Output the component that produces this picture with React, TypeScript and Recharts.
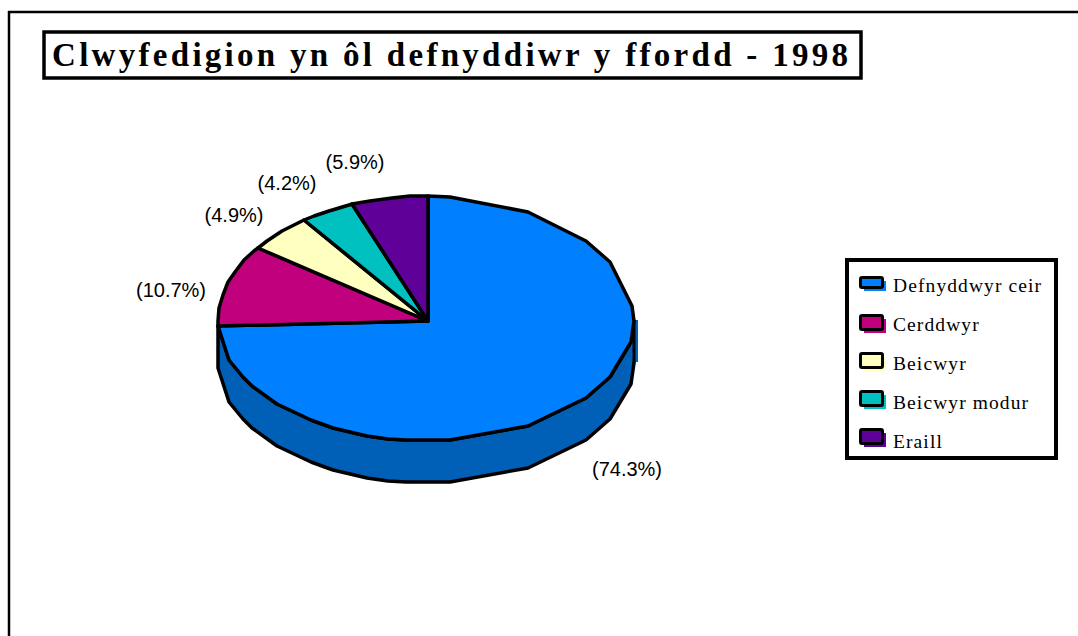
import { PieChart, Pie, Legend } from "recharts";

const categories = ["Defnyddwyr ceir", "Cerddwyr", "Beicwyr", "Beicwyr modur", "Eraill"];
const shares = [74.3, 10.7, 4.9, 4.2, 5.9];
const colors = ["#0080FF", "#C0007C", "#FFFFC0", "#00C0C0", "#5F0098"];
const sideColor = "#0060B8";
const chartTitle = "Clwyfedigion yn ôl defnyddiwr y ffordd - 1998";

const data = categories.map((name, i) => ({ name, value: shares[i], fill: colors[i] }));

// the original pie is a coarse polygon, these are its rim vertices (degrees clockwise from top)
const rimAngles = [
  0, 6, 29, 50, 62, 83, 90, 100, 118, 130, 151, 174, 186, 191, 197, 207, 214, 226, 237, 242, 251, 270, 276, 282,
  288, 293, 299, 304, 310, 316, 321, 327, 332, 338, 344, 350, 355, 360,
];
const labelOffsets = [
  [50, 65],
  [-56, 5],
  [-45, -18],
  [-40, -28],
  [-34, -36],
];

const DEPTH = 42;
const RIGHT_R = 206;
const LEFT_R = 210;
const TOP_R = 125;
const BOTTOM_R = 120;

function rimPoint(cx: number, cy: number, t: number) {
  const rad = (t * Math.PI) / 180;
  const s = Math.sin(rad);
  const c = Math.cos(rad);
  return [
    Math.round(cx + s * (s > 0 ? RIGHT_R : LEFT_R)),
    Math.round(cy - c * (c > 0 ? TOP_R : BOTTOM_R)),
  ];
}

function rimPath(cx: number, cy: number, from: number, to: number) {
  const angles = [from, ...rimAngles.filter((a) => a > from + 0.5 && a < to - 0.5), to];
  return angles.map((a) => rimPoint(cx, cy, a));
}

function toPoints(pts: number[][]) {
  return pts.map((p) => p.join(",")).join(" ");
}

function Slice(props: any) {
  const { cx, cy, startAngle, endAngle, fill } = props;
  const from = 90 - startAngle;
  const to = 90 - endAngle;
  const top = rimPath(cx, cy, from, to);
  const wallEnd = Math.min(to, 270);
  const showWall = from < 90 + 1 && wallEnd > 90;
  const wallTop = showWall ? rimPath(cx, cy, 90, wallEnd) : [];
  const wall = [...wallTop, ...wallTop.map((p) => [p[0], p[1] + DEPTH]).reverse()];
  return (
    <g>
      {showWall && (
        <>
          <polygon points={toPoints(wall)} fill={sideColor} stroke="#000" strokeWidth={3.5} strokeLinejoin="round" />
          <rect x={cx + RIGHT_R - 3} y={cy - 1} width={7} height={DEPTH} fill={sideColor} />
          <line x1={cx + RIGHT_R} y1={cy - 1} x2={cx + RIGHT_R} y2={cy + DEPTH} stroke="#000" strokeWidth={3} />
        </>
      )}
      <polygon
        points={toPoints([[cx, cy], ...top])}
        fill={fill}
        stroke="#000"
        strokeWidth={3.5}
        strokeLinejoin="round"
      />
    </g>
  );
}

function sliceLabel(props: any) {
  const { cx, cy, midAngle, index, value } = props;
  const [x, y] = rimPoint(cx, cy, 90 - midAngle);
  const [dx, dy] = labelOffsets[index];
  return (
    <text
      x={x + dx}
      y={y + dy}
      textAnchor="middle"
      dominantBaseline="central"
      fontFamily="Liberation Sans"
      fontSize={20}
      fill="#000"
    >
      {`(${value.toFixed(1)}%)`}
    </text>
  );
}

function LegendBox({ payload }: any) {
  return (
    <div
      style={{
        width: 213,
        height: 202,
        boxSizing: "border-box",
        border: "4px solid #000",
        background: "#fff",
        position: "relative",
        fontFamily: "Liberation Serif",
        fontSize: 19.5,
        letterSpacing: 1.1,
        color: "#000",
      }}
    >
      {(payload || []).map((entry: any, i: number) => {
        const top = 14 + i * 38;
        const height = i === 0 ? 13 : 17;
        return (
          <div key={entry.value}>
            <div
              style={{
                position: "absolute",
                left: 15,
                top: top + 5,
                width: 22,
                height: height - 3,
                background: entry.color,
              }}
            />
            <div
              style={{
                position: "absolute",
                left: 10,
                top,
                width: 25,
                height,
                boxSizing: "border-box",
                border: "3.5px solid #000",
                borderRadius: 3,
                background: entry.color,
              }}
            />
            <span
              style={{
                position: "absolute",
                left: 44,
                top: 11 + i * 39,
                whiteSpace: "nowrap",
                lineHeight: "26px",
              }}
            >
              {entry.value}
            </span>
          </div>
        );
      })}
    </div>
  );
}

export default function App() {
  return (
    <div style={{ position: "absolute", left: 0, top: 0, width: 1078, height: 636, background: "#fff" }}>
      <PieChart width={1078} height={636} margin={{ top: 0, right: 0, bottom: 0, left: 0 }}>
        <line x1={8} y1={12} x2={1078} y2={12} stroke="#000" strokeWidth={2.5} />
        <line x1={9} y1={11} x2={9} y2={636} stroke="#000" strokeWidth={2.5} />
        <rect x={44} y={32} width={817} height={46} fill="#fff" stroke="#000" strokeWidth={3.5} />
        <text
          x={52}
          y={66}
          fontFamily="Liberation Serif"
          fontWeight="bold"
          fontSize={33}
          textLength={796}
          lengthAdjust="spacing"
          fill="#000"
        >
          {chartTitle}
        </text>
        <Pie
          data={data}
          dataKey="value"
          nameKey="name"
          cx={428}
          cy={321}
          outerRadius={206}
          startAngle={90}
          endAngle={-270}
          paddingAngle={0}
          shape={Slice}
          label={sliceLabel}
          labelLine={false}
          isAnimationActive={false}
        />
        <Legend
          content={<LegendBox />}
          itemSorter={null}
          layout="vertical"
          align="right"
          verticalAlign="top"
          wrapperStyle={{ position: "absolute", left: 845, top: 258, width: 213 }}
        />
      </PieChart>
    </div>
  );
}
